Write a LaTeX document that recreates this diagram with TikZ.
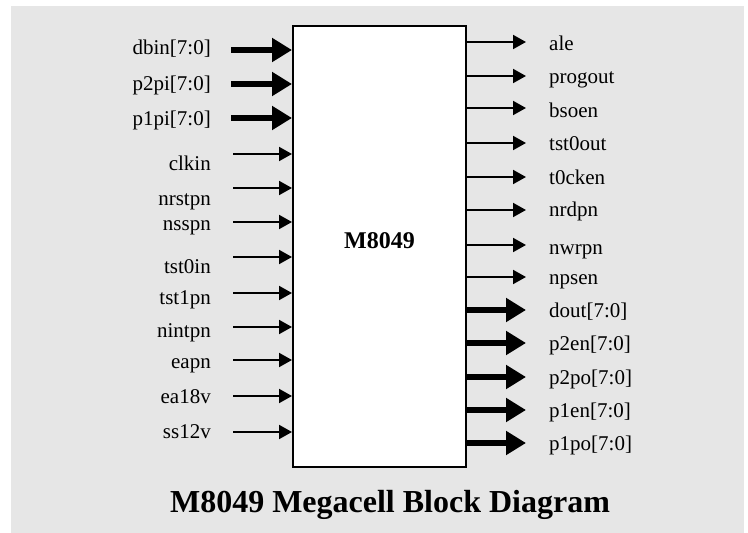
\documentclass[tikz,border=0pt]{standalone}
\usepackage{fontspec}
\setmainfont{Liberation Serif}
\usetikzlibrary{arrows.meta}
\definecolor{bggray}{RGB}{230,230,230}
\begin{document}
\begin{tikzpicture}[x=1pt,y=-1pt,
  lbl/.style={font=\fontsize{21}{24}\selectfont, inner sep=0pt},
  thinarr/.style={line width=2pt, -{Triangle[length=13pt,width=14pt]}},
  thickarr/.style={line width=5.5pt, -{Triangle[length=20pt,width=23pt]}},
]
\useasboundingbox (0,0) rectangle (748,533);
\fill[bggray] (11,6) rectangle (744,533);
\node[draw, line width=2pt, fill=white, minimum width=173pt, minimum height=441pt, inner sep=0pt] (box) at (379.5,246.5) {};
\node[font=\bfseries\fontsize{24}{28}\selectfont, inner sep=0pt] (core) at (379.5,241) {M8049};
% thick inputs
\foreach \n/\t/\ay/\by in {a/dbin[7:0]/50/54, b/p2pi[7:0]/84/90, c/p1pi[7:0]/118/125}{
  \node[lbl, anchor=base east] (L\n) at (211,\by) {\t};
  \coordinate (I\n) at (231,\ay);
  \draw[thickarr] (I\n) -- (I\n -| box.west);
}
% thin inputs
\foreach \n/\t/\ay/\by in {d/clkin/154/170, e/nrstpn/188/205, f/nsspn/222/230, g/tst0in/257/273, h/tst1pn/293/304, i/nintpn/327/337, j/eapn/360/368, k/ea18v/396/403, l/ss12v/432/438}{
  \node[lbl, anchor=base east] (L\n) at (211,\by) {\t};
  \coordinate (I\n) at (233,\ay);
  \draw[thinarr] (I\n) -- (I\n -| box.west);
}
% thin outputs
\foreach \n/\t/\ay/\by in {a/ale/42/50, b/progout/76/83, c/bsoen/108/117, d/tst0out/143/150, e/t0cken/177/184, f/nrdpn/210/216, g/nwrpn/245/254, h/npsen/277/284}{
  \node[lbl, anchor=base west] (R\n) at (549,\by) {\t};
  \coordinate (O\n) at (526,\ay);
  \draw[thinarr] (O\n -| box.east) -- (O\n);
}
% thick outputs
\foreach \n/\t/\ay/\by in {i/dout[7:0]/310/317, j/p2en[7:0]/343/350, k/p2po[7:0]/377/384, l/p1en[7:0]/410/417, m/p1po[7:0]/443/450}{
  \node[lbl, anchor=base west] (R\n) at (549,\by) {\t};
  \coordinate (O\n) at (526,\ay);
  \draw[thickarr] ([xshift=-2pt]O\n -| box.east) -- (O\n);
}
\node[font=\bfseries\fontsize{32}{36}\selectfont, inner sep=0pt, anchor=base] (title) at (390,512) {M8049 Megacell Block Diagram};
\end{tikzpicture}
\end{document}
